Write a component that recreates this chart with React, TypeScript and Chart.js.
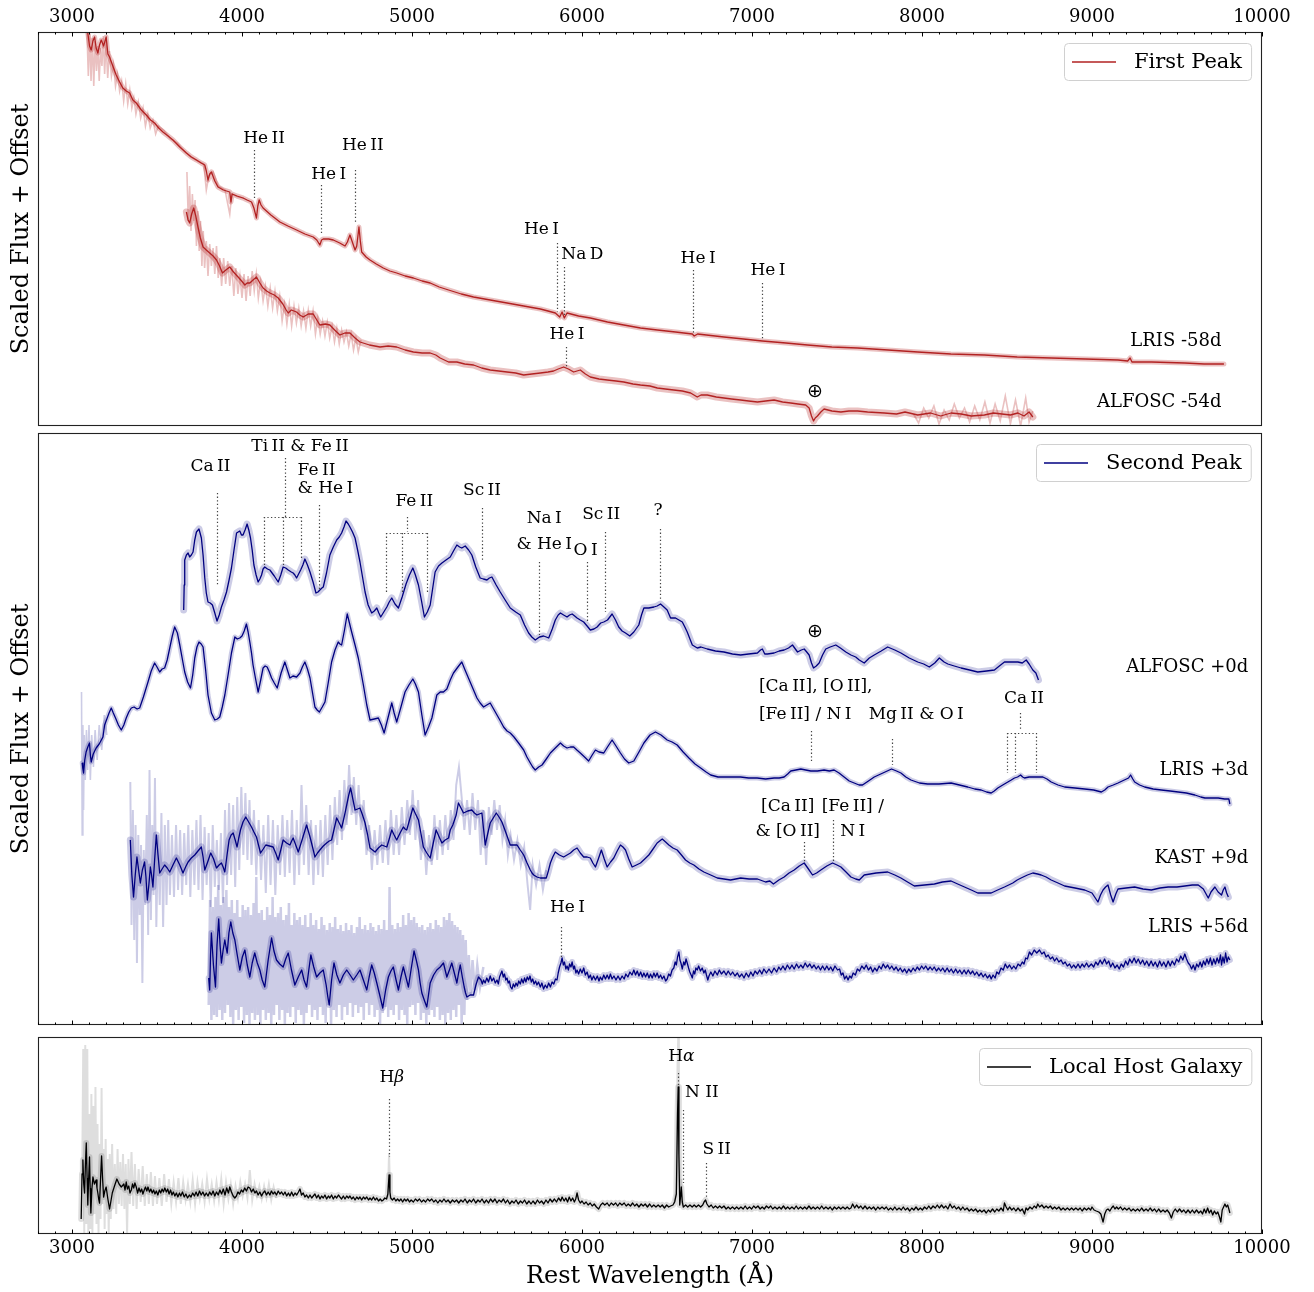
import React, { useEffect, useRef } from 'react';
import { Chart, registerables } from 'chart.js';
Chart.register(...registerables);

type P = [number, number];

// ---------------- axis ----------------
const X_MIN = 2800;
const X_MAX = 10000;
const xMajorTicks = [3000, 4000, 5000, 6000, 7000, 8000, 9000, 10000];
const xTickLabels = ['3000', '4000', '5000', '6000', '7000', '8000', '9000', '10000'];
const xMinorStep = 100;

// ---------------- First peak (top panel) ----------------
const lris58Dark: P[] = [[3093,393],[3103,380],[3113,376],[3123,385],[3133,389],[3142,378],[3152,373],[3162,381],[3172,386],[3186,380],[3201,389],[3211,372],[3221,369],[3240,360],[3260,351],[3280,344],[3299,338],[3319,335],[3339,333],[3358,326],[3378,323],[3408,316],[3437,311],[3462,306],[3486,303],[3510,298],[3535,294],[3565,290],[3594,286],[3634,279],[3673,273],[3702,269],[3732,266],[3760,263],[3781,261],[3790,255],[3800,246],[3810,252],[3820,254],[3840,245],[3859,239],[3890,236],[3928,234],[3935,224],[3942,232],[3970,230],[4006,228],[4030,226],[4056,224],[4070,218],[4085,208],[4093,220],[4101,226],[4112,221],[4124,218],[4170,211],[4223,204],[4270,200],[4321,196],[4370,192],[4419,189],[4440,186],[4458,181],[4468,186],[4478,187],[4510,187],[4537,186],[4575,183],[4606,180],[4620,184],[4635,191],[4645,186],[4665,176],[4675,180],[4688,199],[4696,185],[4704,174],[4730,169],[4753,166],[4790,162],[4831,158],[4870,155],[4910,153],[4960,150],[5008,148],[5060,145],[5107,143],[5160,139],[5215,136],[5290,132],[5362,129],[5460,126],[5559,123],[5657,120],[5755,117],[5800,115],[5843,113],[5869,109],[5883,114],[5896,108],[5912,113],[5980,110],[6049,108],[6150,104],[6246,101],[6344,98],[6443,96],[6550,94],[6649,92],[6660,90],[6680,92],[6835,89],[6950,87],[7061,85],[7200,83],[7326,81],[7470,79],[7621,78],[7800,76],[7975,74],[8170,72],[8367,71],[8560,69],[8760,68],[8960,67],[9153,66],[9210,65],[9224,68],[9235,64],[9350,64],[9546,63],[9660,62],[9776,62]];
const lris58Light: P[] = [[3088,394],[3096,350],[3104,392],[3112,345],[3120,388],[3128,340],[3136,385],[3144,355],[3152,380],[3160,345],[3168,378],[3176,360],[3184,390],[3192,352],[3200,385],[3210,348],[3220,375],[3232,350],[3244,362],[3256,340],[3268,352],[3280,335],[3292,345],[3304,325],[3316,342],[3328,322],[3340,336],[3352,318],[3364,328],[3376,312],[3390,324],[3404,308],[3418,318],[3432,300],[3446,312],[3460,298],[3476,306],[3492,292],[3508,300],[3540,296],[3580,287],[3620,283],[3660,275],[3700,269],[3740,265],[3775,262],[3790,236],[3805,250],[3830,254],[3860,240],[3900,236],[3928,212],[3940,232],[3980,229],[4010,228]];

const alfosc54Dark: P[] = [[3673,214],[3683,206],[3692,203],[3704,212],[3716,218],[3728,210],[3741,199],[3755,188],[3771,179],[3790,176],[3810,173],[3830,170],[3850,166],[3868,160],[3885,153],[3905,156],[3928,159],[3950,154],[3977,149],[3998,145],[4017,141],[4030,143],[4046,143],[4065,146],[4085,149],[4105,143],[4124,138],[4145,135],[4164,133],[4190,131],[4213,128],[4240,122],[4260,116],[4272,113],[4290,116],[4321,114],[4340,111],[4360,109],[4390,112],[4419,112],[4440,106],[4458,101],[4490,102],[4517,101],[4545,96],[4576,91],[4605,93],[4635,93],[4665,88],[4694,84],[4750,81],[4812,79],[4860,80],[4910,79],[4960,76],[5008,74],[5060,73],[5107,73],[5140,71],[5166,68],[5215,64],[5264,64],[5310,62],[5362,61],[5410,58],[5460,56],[5510,55],[5559,54],[5610,53],[5657,51],[5705,52],[5755,53],[5800,54],[5833,55],[5860,57],[5892,59],[5920,57],[5951,54],[5990,56],[6020,52],[6049,49],[6100,47],[6148,46],[6200,45],[6246,44],[6300,42],[6344,41],[6400,40],[6443,38],[6490,37],[6540,36],[6590,35],[6639,33],[6678,29],[6700,31],[6737,31],[6790,29],[6835,28],[6880,27],[6933,26],[6980,25],[7032,24],[7080,25],[7130,26],[7180,24],[7228,23],[7270,22],[7316,21],[7336,18],[7350,10],[7362,5],[7372,8],[7385,10],[7405,14],[7424,17],[7470,15],[7523,14],[7570,15],[7621,15],[7680,14],[7778,13],[7850,12],[7900,14],[7975,11],[8050,13],[8110,10],[8171,13],[8230,12],[8290,10],[8367,11],[8420,13],[8470,12],[8520,11],[8564,13],[8600,10],[8630,14],[8652,9]];
const alfosc54Light: P[] = [[3676,254],[3684,205],[3692,240],[3700,195],[3708,232],[3716,205],[3724,226],[3732,180],[3740,215],[3748,175],[3756,205],[3764,160],[3772,195],[3780,158],[3790,185],[3800,150],[3810,182],[3820,160],[3830,178],[3840,152],[3850,180],[3860,148],[3870,168],[3880,140],[3892,168],[3904,142],[3916,165],[3928,140],[3940,160],[3952,130],[3964,158],[3976,132],[3988,150],[4000,128],[4012,152],[4024,125],[4036,150],[4048,130],[4060,155],[4072,135],[4084,152],[4096,128],[4110,145],[4124,125],[4138,140],[4152,120],[4166,138],[4180,118],[4194,135],[4208,115],[4222,130],[4236,105],[4250,122],[4264,102],[4278,122],[4292,100],[4306,120],[4320,103],[4334,118],[4348,100],[4362,115],[4376,98],[4390,116],[4404,100],[4418,115],[4432,92],[4446,108],[4460,92],[4474,105],[4488,90],[4502,104],[4516,88],[4530,100],[4544,84],[4558,98],[4572,82],[4586,96],[4600,84],[4614,94],[4628,80],[4642,92],[4656,76],[4670,88],[4684,74],[4700,86]];
const alfosc54LightRed: P[] = [[7950,12],[7980,3],[8010,18],[8040,8],[8070,20],[8100,2],[8130,16],[8160,6],[8190,22],[8220,8],[8250,18],[8280,4],[8310,20],[8340,6],[8370,24],[8400,3],[8430,22],[8460,5],[8490,30],[8520,2],[8550,26],[8580,0],[8610,28],[8630,4],[8652,15]];

// ---------------- Second peak (middle panel) ----------------
const alfosc0Dark: P[] = [[3657,415],[3660,440],[3663,465],[3673,470],[3683,472],[3692,468],[3702,470],[3712,473],[3722,485],[3732,493],[3747,496],[3761,487],[3771,470],[3781,447],[3790,432],[3800,423],[3813,422],[3826,420],[3840,412],[3853,404],[3866,410],[3879,418],[3894,425],[3909,433],[3924,445],[3938,457],[3953,475],[3968,492],[3987,494],[3997,490],[4006,490],[4018,495],[4030,501],[4040,495],[4050,487],[4060,475],[4070,460],[4083,450],[4095,443],[4105,446],[4115,450],[4124,456],[4134,458],[4150,456],[4164,455],[4190,449],[4213,443],[4228,450],[4242,458],[4257,457],[4272,455],[4290,453],[4301,452],[4311,450],[4321,447],[4333,451],[4345,455],[4358,460],[4370,466],[4385,460],[4400,453],[4418,443],[4435,432],[4447,433],[4458,435],[4470,437],[4478,438],[4497,452],[4517,470],[4537,478],[4557,485],[4572,488],[4586,492],[4600,498],[4612,504],[4625,501],[4635,498],[4650,493],[4665,487],[4680,475],[4694,463],[4709,448],[4724,433],[4742,420],[4763,412],[4778,414],[4793,417],[4805,412],[4816,408],[4834,413],[4852,418],[4866,423],[4881,427],[4900,421],[4920,417],[4942,428],[4965,441],[4985,450],[5005,457],[5020,450],[5038,440],[5055,425],[5073,408],[5090,413],[5107,420],[5122,437],[5136,453],[5156,459],[5176,462],[5200,465],[5225,468],[5244,474],[5264,480],[5280,478],[5293,477],[5313,479],[5333,475],[5352,470],[5375,458],[5401,447],[5420,446],[5441,445],[5455,447],[5470,448],[5495,440],[5519,433],[5548,425],[5578,417],[5610,413],[5637,410],[5662,400],[5686,392],[5705,388],[5725,385],[5750,388],[5774,389],[5790,388],[5804,387],[5825,396],[5843,405],[5860,410],[5873,412],[5892,410],[5912,408],[5927,410],[5942,411],[5957,409],[5971,407],[5990,405],[6010,403],[6030,399],[6049,395],[6070,396],[6089,398],[6110,402],[6128,403],[6150,405],[6177,411],[6197,405],[6216,398],[6236,394],[6256,392],[6281,389],[6305,393],[6334,400],[6350,410],[6364,417],[6393,417],[6423,418],[6442,419],[6462,421],[6482,418],[6501,415],[6521,407],[6550,407],[6570,405],[6590,403],[6605,398],[6619,393],[6635,386],[6649,380],[6678,377],[6700,378],[6737,376],[6785,374],[6835,373],[6885,371],[6933,370],[6980,371],[7032,372],[7050,375],[7061,376],[7075,371],[7091,371],[7130,372],[7160,374],[7189,375],[7215,377],[7238,380],[7255,376],[7268,373],[7290,375],[7307,376],[7322,373],[7336,370],[7350,362],[7362,357],[7378,359],[7395,362],[7415,370],[7434,376],[7460,378],[7493,380],[7520,377],[7552,373],[7582,370],[7610,368],[7631,365],[7660,362],[7690,367],[7719,370],[7760,374],[7798,378],[7840,375],[7876,372],[7925,367],[7975,363],[8010,361],[8043,358],[8075,362],[8102,367],[8130,363],[8152,361],[8190,359],[8230,357],[8280,355],[8328,353],[8380,354],[8426,355],[8455,359],[8485,363],[8520,363],[8564,363],[8590,362],[8613,365],[8630,361],[8652,355],[8670,352],[8685,345]];

const lris3Dark: P[] = [[3060,262],[3064,256],[3068,252],[3075,265],[3083,273],[3093,278],[3103,282],[3108,270],[3113,263],[3125,271],[3142,277],[3160,281],[3182,288],[3192,300],[3205,306],[3218,312],[3231,317],[3243,312],[3256,307],[3273,300],[3290,295],[3305,300],[3319,307],[3334,313],[3349,317],[3365,318],[3383,316],[3398,317],[3420,328],[3447,343],[3466,354],[3486,362],[3500,358],[3516,353],[3530,356],[3545,357],[3560,365],[3575,377],[3590,389],[3604,398],[3620,392],[3634,380],[3650,365],[3663,353],[3680,343],[3697,337],[3710,350],[3722,367],[3735,378],[3747,383],[3760,381],[3771,378],[3786,355],[3800,330],[3820,312],[3840,305],[3855,306],[3869,308],[3884,318],[3899,330],[3918,350],[3938,372],[3958,388],[3972,386],[3987,387],[4000,389],[4013,394],[4026,401],[4036,393],[4046,383],[4056,372],[4065,360],[4080,346],[4095,333],[4110,345],[4124,357],[4136,359],[4148,358],[4161,353],[4174,347],[4190,342],[4207,337],[4230,352],[4252,363],[4267,355],[4282,347],[4300,349],[4321,348],[4341,352],[4355,358],[4370,363],[4385,356],[4400,347],[4415,332],[4429,318],[4442,315],[4455,313],[4472,318],[4488,323],[4507,342],[4527,363],[4547,375],[4566,383],[4576,381],[4586,380],[4603,395],[4619,411],[4632,402],[4645,393],[4665,380],[4684,367],[4700,353],[4714,340],[4734,320],[4753,305],[4778,306],[4802,307],[4820,300],[4836,292],[4860,308],[4881,322],[4895,312],[4910,303],[4935,318],[4959,333],[4982,340],[5005,346],[5020,341],[5038,333],[5058,310],[5077,290],[5097,298],[5117,307],[5131,318],[5146,330],[5166,333],[5185,333],[5205,336],[5225,345],[5244,352],[5270,358],[5293,363],[5312,355],[5332,347],[5357,337],[5382,327],[5401,322],[5421,318],[5440,320],[5460,322],[5480,316],[5500,310],[5520,304],[5539,298],[5559,294],[5578,292],[5600,288],[5627,282],[5657,275],[5676,268],[5696,262],[5710,258],[5725,255],[5745,258],[5765,260],[5790,266],[5814,272],[5843,277],[5873,282],[5892,279],[5912,277],[5932,278],[5951,278],[5970,275],[5990,272],[6015,268],[6039,264],[6060,270],[6079,275],[6100,273],[6128,272],[6150,278],[6177,285],[6200,279],[6226,272],[6250,266],[6275,262],[6290,263],[6305,264],[6335,273],[6364,282],[6400,290],[6432,293],[6465,290],[6501,285],[6530,283],[6560,280],[6595,273],[6629,267],[6665,261],[6698,257],[6730,253],[6757,250],[6800,248],[6835,248],[6885,248],[6933,248],[6980,247],[7030,247],[7080,246],[7130,247],[7160,247],[7189,248],[7210,251],[7228,254],[7258,255],[7287,256],[7316,255],[7346,254],[7385,254],[7424,255],[7455,254],[7483,255],[7512,252],[7542,248],[7572,244],[7601,242],[7630,240],[7650,240],[7685,244],[7719,248],[7770,252],[7821,256],[7850,254],[7876,252],[7905,248],[7935,245],[7985,242],[8033,241],[8100,241],[8171,242],[8220,240],[8269,238],[8310,236],[8348,235],[8380,233],[8407,232],[8425,234],[8446,237],[8475,240],[8505,243],[8525,245],[8544,247],[8562,248],[8580,250],[8592,248],[8603,247],[8630,248],[8662,248],[8690,248],[8711,248],[8735,246],[8760,243],[8800,240],[8839,238],[8900,237],[8957,236],[9010,235],[9055,233],[9075,235],[9094,238],[9125,240],[9153,242],[9190,245],[9215,247],[9227,250],[9240,246],[9251,243],[9280,240],[9310,238],[9360,236],[9408,235],[9460,234],[9507,233],[9555,232],[9605,230],[9640,228],[9664,227],[9700,227],[9742,227],[9780,226],[9805,226],[9811,221]];
const lris3Light: P[] = [[3056,333],[3060,190],[3064,300],[3068,215],[3072,290],[3078,245],[3085,295],[3092,255],[3100,300],[3108,245],[3116,290],[3126,258],[3136,295],[3148,265],[3160,300],[3175,275],[3190,310],[3205,290]];

const kast9Dark: P[] = [[3343,185],[3352,150],[3362,128],[3372,150],[3382,168],[3392,155],[3402,142],[3414,155],[3427,163],[3435,148],[3443,125],[3452,140],[3461,158],[3468,150],[3476,138],[3486,165],[3496,190],[3506,170],[3516,152],[3530,156],[3545,160],[3560,157],[3575,153],[3594,160],[3614,167],[3634,160],[3653,152],[3668,158],[3683,163],[3702,167],[3722,170],[3741,174],[3761,178],[3771,168],[3781,155],[3798,163],[3816,172],[3833,166],[3850,157],[3865,160],[3879,162],[3889,158],[3899,153],[3912,170],[3924,185],[3936,190],[3948,192],[3960,185],[3971,178],[3981,187],[3991,195],[4006,203],[4022,208],[4039,203],[4056,198],[4070,193],[4085,188],[4097,180],[4109,172],[4125,176],[4140,180],[4162,179],[4183,178],[4198,172],[4213,165],[4228,175],[4242,185],[4262,182],[4282,180],[4292,184],[4301,187],[4316,180],[4331,173],[4355,186],[4380,200],[4390,194],[4400,188],[4415,178],[4429,168],[4444,172],[4458,175],[4478,179],[4498,182],[4513,184],[4527,185],[4542,196],[4557,207],[4572,202],[4586,197],[4601,208],[4616,220],[4628,230],[4639,237],[4652,226],[4665,215],[4680,216],[4694,217],[4709,210],[4724,202],[4739,190],[4753,177],[4768,175],[4783,173],[4802,177],[4822,180],[4837,179],[4852,178],[4866,186],[4881,195],[4895,190],[4910,185],[4930,192],[4949,198],[4959,196],[4969,195],[4987,206],[5005,217],[5021,211],[5038,205],[5052,192],[5067,178],[5087,172],[5107,167],[5124,181],[5142,195],[5160,188],[5176,182],[5195,185],[5215,187],[5225,195],[5240,200],[5260,210],[5273,222],[5288,217],[5303,212],[5328,214],[5352,215],[5367,212],[5382,210],[5396,211],[5411,212],[5421,196],[5431,180],[5445,191],[5460,202],[5478,207],[5496,212],[5512,208],[5529,203],[5553,192],[5578,180],[5598,180],[5618,180],[5637,175],[5657,170],[5677,162],[5696,155],[5706,152],[5716,150],[5735,148],[5755,147],[5772,147],[5790,147],[5802,154],[5814,162],[5828,168],[5843,173],[5867,170],[5892,168],[5912,170],[5932,172],[5951,175],[5971,177],[5990,172],[6010,168],[6030,168],[6049,167],[6064,162],[6079,158],[6096,166],[6114,175],[6131,166],[6148,158],[6168,163],[6187,167],[6207,174],[6226,180],[6241,178],[6256,175],[6275,166],[6295,158],[6320,160],[6344,162],[6369,166],[6393,170],[6418,176],[6442,182],[6457,184],[6472,186],[6492,183],[6511,180],[6535,177],[6560,175],[6585,170],[6609,165],[6634,162],[6658,160],[6688,156],[6717,153],[6757,150],[6796,147],[6835,146],[6874,145],[6904,146],[6933,147],[6983,146],[7032,146],[7080,143],[7105,144],[7126,141],[7158,145],[7189,148],[7218,152],[7248,155],[7278,159],[7307,162],[7332,156],[7356,150],[7380,152],[7405,155],[7440,159],[7474,162],[7500,160],[7523,158],[7553,153],[7582,148],[7610,146],[7631,145],[7660,150],[7730,152],[7798,153],[7840,150],[7876,147],[7915,143],[7955,139],[8015,140],[8073,141],[8120,143],[8171,144],[8210,141],[8250,138],[8290,135],[8328,132],[8367,132],[8407,132],[8445,135],[8485,138],[8510,140],[8534,142],[8560,145],[8583,147],[8620,150],[8652,152],[8680,151],[8701,150],[8730,148],[8760,145],[8800,142],[8839,139],[8900,137],[8957,135],[9000,132],[9035,123],[9050,130],[9065,135],[9080,138],[9094,140],[9110,130],[9124,123],[9140,131],[9153,136],[9200,137],[9251,138],[9300,136],[9349,135],[9400,137],[9448,138],[9500,138],[9546,139],[9590,140],[9625,140],[9655,136],[9684,127],[9700,133],[9723,138],[9742,133],[9762,130],[9772,135],[9782,138],[9792,132],[9802,128]];
const kast9Light: P[] = [[3343,243],[3350,100],[3358,215],[3366,85],[3374,200],[3382,62],[3390,190],[3398,110],[3406,180],[3414,42],[3422,175],[3430,120],[3440,210],[3448,90],[3456,255],[3464,105],[3472,200],[3480,130],[3488,247],[3496,98],[3506,190],[3516,120],[3526,212],[3536,98],[3546,200],[3556,120],[3566,205],[3576,130],[3588,190],[3600,128],[3612,200],[3624,135],[3636,195],[3648,130],[3660,192],[3672,140],[3684,200],[3696,128],[3708,195],[3720,140],[3732,205],[3744,135],[3756,210],[3768,125],[3780,198],[3792,140],[3804,192],[3816,118],[3828,200],[3840,138],[3852,185],[3864,135],[3876,192],[3888,122],[3900,215],[3912,140],[3924,222],[3936,150],[3948,220],[3960,138],[3972,228],[3984,155],[3996,238],[4008,170],[4020,232],[4032,165],[4044,225],[4056,160],[4070,215],[4084,150],[4098,205],[4112,145],[4126,200],[4140,132],[4154,210],[4168,140],[4182,205],[4196,130],[4210,200],[4224,150],[4238,210],[4252,148],[4266,205],[4280,152],[4294,215],[4308,140],[4322,205],[4336,150],[4350,240],[4364,160],[4378,220],[4392,150],[4406,205],[4420,140],[4434,200],[4448,150],[4462,205],[4476,148],[4490,210],[4504,160],[4518,220],[4532,165],[4546,228],[4560,180],[4574,235],[4588,185],[4602,245],[4616,200],[4630,260],[4644,210],[4658,248],[4672,200],[4686,240],[4700,195],[4716,225],[4732,170],[4748,200],[4764,155],[4780,195],[4796,160],[4812,200],[4828,162],[4844,205],[4860,160],[4876,215],[4892,170],[4908,210],[4924,170],[4940,218],[4956,180],[4972,225],[4988,190],[5004,235],[5020,185],[5036,225],[5052,165],[5068,195],[5084,150],[5100,190],[5116,160],[5132,210],[5148,165],[5164,205],[5180,170],[5196,210],[5212,175],[5228,215],[5244,185],[5260,240],[5276,258],[5292,228],[5308,195],[5324,225],[5340,190],[5356,232],[5372,195],[5388,225],[5404,170],[5420,215],[5436,160],[5452,218],[5468,190],[5484,225],[5500,195],[5516,220],[5532,185],[5548,205],[5564,170],[5580,190],[5600,165],[5620,185],[5640,160],[5660,178],[5680,140],[5695,115],[5710,160],[5730,140],[5750,160],[5770,135],[5790,155]];

const lris56Dark: P[] = [[3804,47],[3810,35],[3815,70],[3820,92],[3832,60],[3844,38],[3853,80],[3863,106],[3871,80],[3879,62],[3889,75],[3899,85],[3906,78],[3913,72],[3923,92],[3934,103],[3946,92],[3958,85],[3972,70],[3987,55],[4002,68],[4017,75],[4031,60],[4046,48],[4060,62],[4075,72],[4090,62],[4105,55],[4119,45],[4134,38],[4154,65],[4174,87],[4188,74],[4203,65],[4222,61],[4242,58],[4257,66],[4272,72],[4291,55],[4311,40],[4331,48],[4351,55],[4365,45],[4380,38],[4393,55],[4405,70],[4422,58],[4439,48],[4458,52],[4478,55],[4495,40],[4505,28],[4513,20],[4527,45],[4541,62],[4558,50],[4576,42],[4596,50],[4616,55],[4636,50],[4655,45],[4675,50],[4694,55],[4714,45],[4734,35],[4748,48],[4763,60],[4778,52],[4793,42],[4810,30],[4828,17],[4845,35],[4861,48],[4876,54],[4890,58],[4905,46],[4920,35],[4935,48],[4949,58],[4964,48],[4979,38],[4995,56],[5012,74],[5025,65],[5038,55],[5048,42],[5058,32],[5072,25],[5087,18],[5097,30],[5107,42],[5127,50],[5146,55],[5166,58],[5185,62],[5195,55],[5205,48],[5220,55],[5234,62],[5249,52],[5264,42],[5274,52],[5284,60],[5296,48],[5307,38],[5315,32],[5323,28],[5342,30],[5362,30],[5376,40],[5391,48],[5406,45],[5414,41],[5421,45],[5430,42],[5440,47],[5450,43],[5460,49],[5470,44],[5480,47],[5490,42],[5500,45],[5508,41],[5515,48],[5522,51],[5529,54],[5537,48],[5544,51],[5552,45],[5559,47],[5566,42],[5573,44],[5580,38],[5588,36],[5596,41],[5604,38],[5612,42],[5620,39],[5628,44],[5637,41],[5645,46],[5654,42],[5662,47],[5670,43],[5678,48],[5686,45],[5694,49],[5702,43],[5710,46],[5718,41],[5727,44],[5735,40],[5744,43],[5755,38],[5764,42],[5774,36],[5784,40],[5794,37],[5804,42],[5814,38],[5824,43],[5834,41],[5844,46],[5853,45],[5860,52],[5868,58],[5876,62],[5883,67],[5890,60],[5897,63],[5905,56],[5912,59],[5920,55],[5927,61],[5935,58],[5942,63],[5950,56],[5956,59],[5964,52],[5971,55],[5980,51],[5990,56],[6000,52],[6010,57],[6020,50],[6030,53],[6040,47],[6049,50],[6058,45],[6068,49],[6079,45],[6090,49],[6100,44],[6108,48],[6118,45],[6128,50],[6138,46],[6148,50],[6158,46],[6167,51],[6177,46],[6188,49],[6200,45],[6212,49],[6224,45],[6236,49],[6248,46],[6258,51],[6270,48],[6282,53],[6294,50],[6305,55],[6315,50],[6325,54],[6335,49],[6345,53],[6355,48],[6364,52],[6374,48],[6384,52],[6394,47],[6403,51],[6413,47],[6423,52],[6432,48],[6442,52],[6452,47],[6462,50],[6472,46],[6482,49],[6492,44],[6501,46],[6510,51],[6520,49],[6530,55],[6540,57],[6548,63],[6555,60],[6562,68],[6570,73],[6576,65],[6582,62],[6590,56],[6598,63],[6605,60],[6612,66],[6619,62],[6627,57],[6634,53],[6642,50],[6649,47],[6656,54],[6663,51],[6670,57],[6678,55],[6686,59],[6697,54],[6707,57],[6717,52],[6725,55],[6732,50],[6740,45],[6747,49],[6758,53],[6770,49],[6782,54],[6796,50],[6808,55],[6820,51],[6835,54],[6848,50],[6860,54],[6874,50],[6886,53],[6900,49],[6914,52],[6926,48],[6940,51],[6953,47],[6966,52],[6980,48],[6993,53],[7006,49],[7018,54],[7032,51],[7045,55],[7058,51],[7070,56],[7085,52],[7100,56],[7115,52],[7130,57],[7145,53],[7158,58],[7169,55],[7182,59],[7195,55],[7208,60],[7222,56],[7235,60],[7248,56],[7262,61],[7275,57],[7287,60],[7300,57],[7313,62],[7326,58],[7340,61],[7352,57],[7365,60],[7378,56],[7390,59],[7403,55],[7415,59],[7428,55],[7440,59],[7452,55],[7463,58],[7475,54],[7488,59],[7503,55],[7515,56],[7525,50],[7535,52],[7545,46],[7555,49],[7565,45],[7575,49],[7585,47],[7595,52],[7608,50],[7620,56],[7633,54],[7646,59],[7660,56],[7672,60],[7685,55],[7698,58],[7710,53],[7722,57],[7735,54],[7748,59],[7760,56],[7772,61],[7785,57],[7798,60],[7810,56],[7822,59],[7835,55],[7848,58],[7860,54],[7872,57],[7885,53],[7898,56],[7910,52],[7922,56],[7935,53],[7948,57],[7960,54],[7972,58],[7985,55],[7998,59],[8010,56],[8022,59],[8035,55],[8048,58],[8060,55],[8072,58],[8085,54],[8098,57],[8110,54],[8122,57],[8135,53],[8148,57],[8160,53],[8172,56],[8185,52],[8198,56],[8210,52],[8222,55],[8235,51],[8248,55],[8260,51],[8272,55],[8285,51],[8298,54],[8310,50],[8322,53],[8335,49],[8348,52],[8360,48],[8372,51],[8385,47],[8398,50],[8407,46],[8418,50],[8430,47],[8440,53],[8452,51],[8465,57],[8478,55],[8490,61],[8502,57],[8515,60],[8528,56],[8540,59],[8552,56],[8565,61],[8578,59],[8590,63],[8600,61],[8610,67],[8620,66],[8632,73],[8645,70],[8660,75],[8675,72],[8691,75],[8705,71],[8718,73],[8730,68],[8742,70],[8755,66],[8768,68],[8780,64],[8792,67],[8805,63],[8818,65],[8830,61],[8842,63],[8855,59],[8868,61],[8880,57],[8892,60],[8905,57],[8918,61],[8930,57],[8942,61],[8955,58],[8968,62],[8980,58],[8996,61],[9010,58],[9022,63],[9035,60],[9048,65],[9060,61],[9074,66],[9086,61],[9098,64],[9110,58],[9122,62],[9135,57],[9148,60],[9160,56],[9172,61],[9185,58],[9198,64],[9210,60],[9222,66],[9235,62],[9248,67],[9260,62],[9272,66],[9285,61],[9298,65],[9310,60],[9322,64],[9335,59],[9348,64],[9360,59],[9372,63],[9385,58],[9398,64],[9410,59],[9422,63],[9435,58],[9448,64],[9460,59],[9472,64],[9485,60],[9498,66],[9510,63],[9522,69],[9534,65],[9546,71],[9556,66],[9566,62],[9576,60],[9586,56],[9596,60],[9606,55],[9616,61],[9626,58],[9636,63],[9646,58],[9656,64],[9666,60],[9676,66],[9686,61],[9696,67],[9706,60],[9716,66],[9726,61],[9736,67],[9746,62],[9756,70],[9762,60],[9770,68],[9778,62],[9786,72],[9794,63],[9802,68],[9811,65]];
const lris56Light: P[] = [[3804,20],[3812,125],[3820,5],[3828,118],[3836,10],[3844,128],[3852,8],[3860,140],[3868,15],[3876,120],[3884,5],[3892,128],[3900,12],[3908,135],[3916,20],[3924,118],[3932,8],[3940,125],[3948,0],[3956,112],[3964,15],[3972,125],[3980,5],[3988,108],[3996,18],[4004,120],[4012,2],[4020,115],[4028,10],[4036,118],[4044,0],[4052,110],[4060,12],[4068,122],[4076,5],[4084,148],[4092,10],[4100,112],[4108,0],[4116,115],[4124,15],[4132,105],[4140,5],[4148,118],[4156,12],[4164,110],[4172,0],[4180,128],[4188,10],[4196,108],[4204,20],[4212,112],[4220,5],[4228,118],[4236,15],[4244,105],[4252,0],[4260,110],[4268,12],[4276,122],[4284,8],[4292,100],[4300,18],[4308,112],[4316,2],[4324,105],[4332,15],[4340,108],[4348,10],[4356,100],[4364,0],[4372,110],[4380,12],[4388,98],[4396,20],[4404,112],[4412,8],[4420,100],[4428,15],[4436,105],[4444,5],[4452,96],[4460,18],[4468,108],[4476,10],[4484,100],[4492,2],[4500,95],[4508,20],[4516,102],[4524,0],[4532,98],[4540,15],[4548,108],[4556,8],[4564,96],[4572,20],[4580,100],[4588,5],[4596,94],[4604,18],[4612,102],[4620,10],[4628,95],[4636,22],[4644,100],[4652,8],[4660,92],[4668,20],[4676,98],[4684,12],[4692,108],[4700,18],[4708,96],[4716,5],[4724,100],[4732,22],[4740,95],[4748,10],[4756,102],[4764,20],[4772,98],[4780,8],[4788,94],[4796,15],[4804,100],[4812,0],[4820,96],[4828,12],[4836,105],[4844,18],[4852,95],[4860,8],[4868,138],[4876,15],[4884,100],[4892,10],[4900,96],[4908,20],[4916,102],[4924,5],[4932,98],[4940,15],[4948,110],[4956,10],[4964,100],[4972,0],[4980,112],[4988,18],[4996,105],[5004,20],[5012,108],[5020,10],[5028,102],[5036,22],[5044,98],[5052,5],[5060,100],[5068,12],[5076,95],[5084,0],[5092,98],[5100,10],[5108,102],[5116,15],[5124,96],[5132,8],[5140,105],[5148,18],[5156,100],[5164,5],[5172,98],[5180,10],[5188,108],[5196,0],[5204,105],[5212,12],[5220,112],[5228,5],[5236,104],[5244,15],[5252,100],[5260,8],[5268,98],[5276,20],[5284,95],[5292,0],[5300,90],[5308,10],[5316,85],[5324,25],[5334,70],[5344,30],[5356,65],[5370,35],[5384,60],[5400,38],[5420,58]];

// ---------------- Local host galaxy (bottom panel) ----------------
const hostDark: P[] = [[3054,15],[3059,60],[3064,74],[3069,50],[3074,41],[3079,70],[3084,91],[3089,55],[3093,29],[3098,55],[3103,77],[3107,45],[3111,21],[3117,45],[3123,57],[3132,50],[3142,54],[3147,46],[3152,41],[3157,35],[3162,31],[3168,55],[3174,78],[3180,55],[3186,37],[3193,43],[3201,47],[3211,35],[3221,25],[3229,33],[3237,41],[3250,48],[3264,55],[3277,50],[3290,47],[3305,50],[3312,44],[3319,52],[3326,45],[3334,48],[3341,41],[3349,44],[3356,50],[3363,46],[3370,51],[3378,47],[3386,41],[3394,46],[3402,42],[3410,45],[3417,40],[3425,44],[3432,47],[3440,43],[3447,47],[3456,42],[3464,45],[3472,41],[3480,44],[3488,40],[3496,43],[3505,39],[3514,44],[3522,41],[3530,45],[3538,42],[3546,46],[3555,42],[3563,45],[3571,40],[3580,44],[3588,39],[3596,42],[3605,38],[3614,41],[3623,37],[3632,41],[3640,38],[3650,42],[3660,37],[3670,40],[3680,36],[3690,39],[3700,37],[3710,41],[3720,38],[3730,42],[3740,38],[3750,43],[3760,39],[3770,42],[3780,38],[3790,41],[3800,38],[3810,42],[3820,39],[3830,43],[3840,38],[3850,42],[3860,39],[3870,44],[3880,40],[3890,45],[3900,39],[3910,46],[3920,41],[3928,47],[3938,42],[3948,38],[3958,36],[3967,38],[3976,42],[3986,40],[3996,44],[4006,42],[4016,46],[4026,43],[4036,47],[4046,46],[4056,42],[4066,45],[4076,41],[4085,43],[4095,39],[4105,42],[4115,38],[4124,41],[4134,43],[4144,39],[4154,42],[4164,39],[4173,43],[4183,40],[4193,42],[4203,39],[4213,43],[4223,40],[4233,42],[4243,39],[4253,42],[4263,38],[4273,41],[4282,38],[4292,42],[4302,38],[4312,41],[4322,39],[4332,42],[4341,45],[4350,39],[4360,41],[4370,37],[4380,39],[4390,36],[4400,39],[4410,36],[4419,38],[4429,40],[4439,36],[4449,39],[4459,35],[4468,38],[4478,36],[4488,39],[4498,35],[4508,38],[4517,36],[4527,39],[4537,35],[4547,38],[4557,36],[4567,39],[4576,37],[4586,35],[4596,38],[4606,35],[4616,38],[4626,36],[4635,38],[4645,35],[4655,37],[4665,34],[4675,37],[4685,35],[4694,37],[4704,34],[4714,37],[4724,35],[4734,37],[4744,34],[4753,36],[4763,34],[4773,37],[4783,34],[4793,36],[4803,33],[4813,35],[4823,33],[4831,34],[4840,36],[4850,35],[4858,40],[4865,59],[4870,42],[4875,36],[4885,34],[4895,36],[4905,33],[4915,35],[4925,33],[4935,35],[4945,32],[4955,35],[4965,33],[4975,35],[4985,32],[4995,34],[5008,32],[5020,35],[5032,33],[5044,35],[5056,32],[5068,34],[5080,32],[5092,35],[5104,33],[5116,35],[5128,32],[5140,34],[5152,31],[5164,34],[5176,32],[5188,35],[5200,32],[5212,34],[5225,31],[5238,34],[5250,32],[5262,34],[5275,31],[5288,34],[5300,32],[5312,35],[5325,31],[5338,34],[5350,32],[5362,35],[5375,31],[5388,34],[5400,32],[5412,35],[5425,31],[5438,34],[5450,31],[5462,35],[5475,32],[5488,35],[5500,31],[5512,34],[5525,32],[5538,35],[5550,31],[5562,34],[5575,30],[5588,33],[5600,31],[5612,34],[5625,30],[5638,33],[5650,31],[5662,34],[5675,30],[5688,33],[5700,30],[5712,33],[5725,30],[5738,34],[5750,31],[5762,33],[5775,30],[5788,34],[5800,31],[5812,35],[5825,32],[5838,35],[5850,32],[5862,36],[5875,33],[5883,37],[5895,33],[5905,36],[5915,32],[5925,37],[5935,33],[5945,36],[5955,32],[5963,35],[5971,41],[5980,34],[5990,31],[6000,33],[6012,30],[6024,32],[6036,29],[6048,31],[6060,28],[6072,30],[6085,27],[6098,25],[6110,29],[6122,31],[6134,29],[6148,31],[6160,28],[6172,31],[6185,29],[6198,31],[6210,28],[6222,31],[6235,29],[6248,31],[6260,28],[6272,30],[6285,28],[6298,31],[6310,28],[6322,30],[6335,27],[6348,30],[6360,28],[6372,30],[6385,27],[6398,30],[6410,27],[6422,29],[6435,27],[6448,29],[6460,27],[6472,29],[6485,26],[6498,29],[6510,27],[6521,28],[6535,29],[6545,32],[6555,40],[6562,120],[6566,147],[6570,80],[6575,29],[6580,38],[6584,47],[6590,32],[6596,27],[6610,29],[6622,27],[6635,29],[6648,27],[6660,29],[6672,27],[6685,29],[6698,27],[6710,29],[6718,32],[6727,34],[6735,30],[6747,27],[6760,29],[6772,26],[6785,28],[6798,26],[6810,28],[6822,26],[6835,28],[6848,25],[6860,27],[6872,25],[6885,27],[6898,25],[6910,27],[6922,25],[6935,27],[6948,25],[6960,28],[6972,25],[6985,27],[6998,25],[7010,28],[7022,26],[7035,28],[7048,25],[7060,27],[7072,25],[7085,28],[7098,26],[7110,28],[7122,25],[7135,27],[7148,25],[7160,27],[7172,25],[7185,28],[7198,25],[7210,27],[7222,25],[7235,27],[7248,25],[7260,28],[7272,25],[7285,27],[7298,25],[7310,27],[7322,25],[7335,28],[7348,25],[7360,27],[7372,25],[7385,27],[7398,25],[7410,28],[7422,25],[7435,27],[7448,25],[7460,27],[7472,24],[7485,27],[7498,25],[7510,27],[7522,25],[7535,27],[7548,25],[7560,27],[7572,25],[7582,26],[7592,30],[7604,26],[7615,29],[7628,26],[7640,28],[7652,25],[7665,28],[7678,25],[7690,27],[7702,25],[7715,27],[7728,24],[7740,27],[7752,25],[7765,27],[7778,25],[7790,27],[7802,24],[7815,26],[7828,24],[7840,27],[7852,24],[7865,26],[7878,24],[7890,27],[7902,24],[7915,26],[7928,23],[7940,26],[7952,24],[7965,27],[7978,24],[7990,26],[8002,24],[8015,27],[8028,25],[8040,28],[8052,25],[8065,28],[8078,26],[8090,29],[8102,26],[8115,29],[8128,26],[8140,28],[8152,25],[8165,30],[8178,26],[8190,28],[8202,25],[8215,27],[8228,24],[8240,27],[8252,24],[8265,26],[8278,23],[8290,25],[8302,23],[8315,25],[8328,22],[8340,24],[8352,22],[8365,24],[8378,21],[8390,24],[8402,22],[8415,25],[8428,22],[8440,25],[8452,23],[8465,26],[8478,23],[8485,31],[8495,27],[8505,24],[8515,27],[8528,24],[8540,26],[8552,23],[8565,26],[8578,23],[8590,25],[8603,20],[8612,26],[8622,24],[8635,27],[8648,25],[8660,28],[8672,26],[8681,30],[8692,27],[8705,29],[8718,26],[8730,28],[8742,26],[8755,28],[8768,25],[8780,27],[8792,25],[8805,27],[8818,24],[8830,26],[8842,24],[8855,26],[8868,24],[8880,26],[8892,24],[8905,26],[8918,24],[8930,26],[8942,23],[8955,26],[8968,24],[8980,26],[8992,24],[9000,27],[9012,24],[9025,23],[9040,22],[9052,20],[9065,12],[9075,20],[9085,24],[9094,25],[9105,23],[9115,26],[9125,28],[9135,25],[9145,27],[9155,25],[9168,27],[9180,24],[9192,26],[9205,24],[9218,26],[9230,23],[9242,25],[9255,23],[9268,25],[9280,23],[9292,26],[9305,23],[9318,25],[9330,23],[9342,26],[9355,23],[9368,25],[9380,22],[9392,25],[9405,22],[9418,24],[9430,22],[9442,24],[9455,21],[9467,16],[9478,22],[9490,25],[9502,22],[9515,25],[9528,22],[9540,24],[9552,21],[9565,24],[9578,21],[9590,24],[9602,21],[9615,24],[9628,21],[9640,23],[9650,20],[9660,25],[9670,21],[9680,26],[9690,21],[9700,24],[9710,19],[9720,23],[9730,20],[9740,22],[9750,17],[9758,12],[9766,24],[9774,27],[9782,30],[9790,27],[9798,29],[9805,25],[9811,21]];
const hostLight: P[] = [[3060,60],[3066,185],[3072,0],[3078,189],[3084,10],[3090,185],[3096,0],[3102,120],[3108,5],[3114,140],[3120,0],[3126,128],[3132,20],[3138,147],[3144,10],[3150,110],[3156,0],[3162,90],[3168,15],[3174,146],[3180,30],[3186,85],[3192,5],[3198,95],[3204,20],[3210,75],[3216,0],[3222,80],[3228,15],[3236,90],[3244,25],[3252,70],[3260,20],[3268,85],[3276,30],[3284,72],[3292,28],[3300,80],[3308,25],[3316,70],[3324,0],[3332,75],[3340,30],[3350,82],[3360,28],[3370,70],[3380,25],[3392,65],[3404,32],[3416,68],[3428,28],[3440,60],[3452,30],[3464,62],[3476,28],[3488,58],[3500,30],[3514,56],[3528,28],[3542,60],[3556,32],[3570,55],[3584,30],[3598,52],[3612,32],[3626,56],[3640,30],[3654,52],[3668,34],[3682,50],[3696,32],[3710,54],[3724,30],[3738,52],[3752,35],[3766,50],[3780,32],[3794,55],[3808,35],[3822,50],[3836,33],[3850,52],[3864,34],[3878,55],[3892,30],[3906,52],[3920,35],[3934,50],[3948,30],[3962,48],[3976,35],[3990,52],[4004,38],[4018,50],[4032,36],[4046,64],[4060,34],[4074,50],[4088,38],[4102,48],[4116,35],[4130,48],[4144,36],[4158,50],[4172,34],[4186,47],[4200,36]];
const hostLightHb: P[] = [[4850,34],[4858,38],[4865,81],[4872,36],[4880,34]];
const hostLightHa: P[] = [[6540,30],[6555,45],[6562,170],[6566,197],[6570,90],[6578,30],[6584,55],[6592,28]];

// ---------------- labels & annotations (data coordinates) ----------------
type Ann = { t: [string, number, number, string?][]; v?: [number, number, number][]; h?: [number, number, number][] };
const S = '\u2009';

const annFirst: Ann[] = [
  { t: [[`He${S}II`, 4130, 287]], v: [[4070, 276, 226]] },
  { t: [[`He${S}I`, 4510, 251]], v: [[4463, 241, 191]] },
  { t: [[`He${S}II`, 4711, 280]], v: [[4665, 256, 203]] },
  { t: [[`He${S}I`, 5762, 196]], v: [[5853, 183, 114]] },
  { t: [[`Na${S}D`, 6002, 171]], v: [[5896, 159, 111]] },
  { t: [[`He${S}I`, 6683, 167]], v: [[6655, 156, 93]] },
  { t: [[`He${S}I`, 7094, 155]], v: [[7061, 143, 86]] },
  { t: [[`He${S}I`, 5912, 91]], v: [[5904, 79, 58]] },
  { t: [['\u2295', 7371, 34]] },
];
const annSecond: Ann[] = [
  { t: [[`Ca${S}II`, 3815, 558]], v: [[3851, 532, 440]] },
  { t: [[`Ti${S}II & Fe${S}II`, 4341, 578]], v: [[4252, 567, 508], [4128, 508, 460], [4242, 508, 460], [4345, 508, 466]], h: [[4128, 4345, 508]] },
  { t: [[`Fe${S}II`, 4327, 554.5, 'left'], [`& He${S}I`, 4327, 536, 'left']], v: [[4451, 520, 435]] },
  { t: [[`Fe${S}II`, 5014, 523]], v: [[4969, 508, 493], [4847, 492, 432], [4940, 492, 432], [5087, 492, 432]], h: [[4847, 5087, 492]] },
  { t: [[`Sc${S}II`, 5412, 534.5]], v: [[5411, 517, 463]] },
  { t: [[`Na${S}I`, 5778, 506], [`& He${S}I`, 5778, 480]], v: [[5745, 463, 390]] },
  { t: [[`O${S}I`, 6021, 474]], v: [[6030, 463, 403]] },
  { t: [[`Sc${S}II`, 6113, 510]], v: [[6138, 493, 413]] },
  { t: [['?', 6447, 514]], v: [[6456, 496, 425]] },
  { t: [['\u2295', 7371, 392.5]] },
  { t: [[`[Ca${S}II], [O${S}II],`, 7041, 338, 'left'], [`[Fe${S}II] / N${S}I`, 7041, 310, 'left']], v: [[7346, 294, 263]] },
  { t: [[`Mg${S}II & O${S}I`, 7966, 310]], v: [[7823, 286, 260]] },
  { t: [[`Ca${S}II`, 8600, 326]], v: [[8578, 312, 295], [8501, 292, 252], [8548, 292, 252], [8668, 292, 252]], h: [[8501, 8668, 292]] },
  { t: [[`[Ca${S}II]`, 7210, 218], [`& [O${S}II]`, 7210, 193]], v: [[7306, 183, 163]] },
  { t: [[`[Fe${S}II] /`, 7593, 218], [`N${S}I`, 7593, 193]], v: [[7474, 205, 163]] },
  { t: [[`He${S}I`, 5914, 117]], v: [[5879, 98, 67]] },
];
const annHost: Ann[] = [
  { t: [['H_\u03b2_', 4881, 156.5]], v: [[4865, 135, 77]] },
  { t: [['H_\u03b1_', 6585, 177]], v: [[6566, 161, 147]] },
  { t: [['N II', 6705, 141]], v: [[6596, 124, 51]] },
  { t: [[`S${S}II`, 6793, 84]], v: [[6727, 71, 37]] },
];

const specLabelsFirst: [string, number, number][] = [['LRIS -58d', 9762, 85], ['ALFOSC -54d', 9762, 24]];
const specLabelsSecond: [string, number, number][] = [['ALFOSC +0d', 9919, 358], ['LRIS +3d', 9919, 255], ['KAST +9d', 9919, 167], ['LRIS +56d', 9919, 98]];

// ---------------- styles ----------------
const RED = '#b22222';
const RED_L = 'rgba(178,34,34,0.28)';
const BLUE = '#000080';
const BLUE_L = 'rgba(0,0,128,0.2)';
const BLACK = '#000000';
const GREY_L = 'rgba(0,0,0,0.13)';
const SERIF = "'DejaVu Serif', 'Liberation Serif', serif";

const toXY = (d: P[]) => d.map(([x, y]) => ({ x, y }));
const darkDs = (d: P[], c: string) => ({ data: toXY(d), borderColor: c, borderWidth: 1.3, pointRadius: 0, order: 0, clip: 0, borderJoinStyle: 'round' });
const haloDs = (d: P[], c: string, w: number) => ({ data: toXY(d), borderColor: c, borderWidth: w, pointRadius: 0, order: 2, clip: 0, borderJoinStyle: 'round', borderCapStyle: 'round' });
const lightDs = (d: P[], c: string, w = 1.6) => ({ data: toXY(d), borderColor: c, borderWidth: w, pointRadius: 0, order: 1, clip: 0 });

function drawRich(ctx: CanvasRenderingContext2D, text: string, x: number, y: number, align: string, size: number) {
  const isSym = text === '\u2295';
  const parts = text.split('_');
  const fonts = parts.map((_, i) => isSym ? "19px 'DejaVu Sans', sans-serif" : `${i % 2 ? 'italic ' : ''}${size}px ${SERIF}`);
  const widths = parts.map((p, i) => { ctx.font = fonts[i]; return ctx.measureText(p).width; });
  const total = widths.reduce((a, b) => a + b, 0);
  let sx = align === 'center' ? x - total / 2 : align === 'right' ? x - total : x;
  ctx.textAlign = 'left';
  ctx.textBaseline = 'middle';
  parts.forEach((p, i) => { ctx.font = fonts[i]; ctx.fillText(p, sx, y); sx += widths[i]; });
}

type PanelCfg = {
  yMax: number;
  padding: { left: number; right: number; top: number; bottom: number };
  datasets: any[];
  ann: Ann[];
  labels: [string, number, number][];
  legend: { text: string; color: string };
  topTicks?: boolean; bottomTicks?: boolean; topLabels?: boolean; bottomLabels?: boolean; yTitle?: boolean; xTitle?: boolean;
};

const decor = (cfg: PanelCfg) => ({
  id: 'decor',
  afterDraw(chart: any) {
    const { ctx, chartArea: a, scales } = chart;
    const xs = scales.x, ys = scales.y;
    ctx.save();
    ctx.fillStyle = '#000';
    ctx.strokeStyle = '#444';
    ctx.lineWidth = 1.2;
    ctx.setLineDash([1.3, 2.3]);
    cfg.ann.forEach((an) => {
      (an.v || []).forEach(([l, h1, h2]) => {
        const x = Math.round(xs.getPixelForValue(l)) + 0.5;
        ctx.beginPath(); ctx.moveTo(x, ys.getPixelForValue(h1)); ctx.lineTo(x, ys.getPixelForValue(h2)); ctx.stroke();
      });
      (an.h || []).forEach(([l1, l2, h]) => {
        const y = Math.round(ys.getPixelForValue(h)) + 0.5;
        ctx.beginPath(); ctx.moveTo(xs.getPixelForValue(l1), y); ctx.lineTo(xs.getPixelForValue(l2), y); ctx.stroke();
      });
    });
    ctx.setLineDash([]);
    cfg.ann.forEach((an) => {
      an.t.forEach(([s, l, h, al]) => drawRich(ctx, s, xs.getPixelForValue(l), ys.getPixelForValue(h), al || 'center', 17));
    });
    cfg.labels.forEach(([s, l, h]) => drawRich(ctx, s, xs.getPixelForValue(l), ys.getPixelForValue(h), 'right', 18));

    // legend
    ctx.font = `21px ${SERIF}`;
    const tw = ctx.measureText(cfg.legend.text).width;
    const bw = 79 + tw, bh = 37;
    const bx = Math.round(a.right - 11 - bw), by = Math.round(a.top + 11);
    ctx.beginPath();
    ctx.roundRect(bx + 0.5, by + 0.5, bw, bh, 4);
    ctx.fillStyle = 'rgba(255,255,255,0.85)';
    ctx.fill();
    ctx.strokeStyle = '#d0d0d0';
    ctx.lineWidth = 1;
    ctx.stroke();
    ctx.strokeStyle = cfg.legend.color;
    ctx.lineWidth = 1.4;
    ctx.beginPath(); ctx.moveTo(bx + 8, by + bh / 2 + 0.5); ctx.lineTo(bx + 52, by + bh / 2 + 0.5); ctx.stroke();
    ctx.fillStyle = '#000';
    ctx.textAlign = 'left'; ctx.textBaseline = 'middle';
    ctx.fillText(cfg.legend.text, bx + 70, by + bh / 2 + 1);

    // frame
    ctx.strokeStyle = '#222';
    ctx.lineWidth = 1.1;
    ctx.strokeRect(Math.round(a.left) + 0.5, Math.round(a.top) + 0.5, Math.round(a.right - a.left) - 1, Math.round(a.bottom - a.top) - 1);

    // ticks
    ctx.strokeStyle = '#000';
    ctx.lineWidth = 1;
    for (let l = X_MIN; l <= X_MAX; l += xMinorStep) {
      const major = xMajorTicks.includes(l);
      const len = major ? 4.5 : 2.5;
      const x = Math.round(xs.getPixelForValue(l)) + 0.5;
      if (cfg.topTicks) { ctx.beginPath(); ctx.moveTo(x, a.top); ctx.lineTo(x, a.top + len); ctx.stroke(); }
      if (cfg.bottomTicks) { ctx.beginPath(); ctx.moveTo(x, a.bottom); ctx.lineTo(x, a.bottom - len); ctx.stroke(); }
    }
    ctx.fillStyle = '#000';
    ctx.font = `18px ${SERIF}`;
    ctx.textAlign = 'center';
    ctx.textBaseline = 'middle';
    xMajorTicks.forEach((l, i) => {
      const x = xs.getPixelForValue(l);
      if (cfg.topLabels) ctx.fillText(xTickLabels[i], x, a.top - 15);
      if (cfg.bottomLabels) ctx.fillText(xTickLabels[i], x, a.bottom + 14);
    });
    ctx.font = `24px ${SERIF}`;
    if (cfg.yTitle) {
      ctx.save();
      ctx.translate(22, (a.top + a.bottom) / 2);
      ctx.rotate(-Math.PI / 2);
      ctx.fillText('Scaled Flux + Offset', 0, 0);
      ctx.restore();
    }
    if (cfg.xTitle) ctx.fillText('Rest Wavelength (\u00c5)', (a.left + a.right) / 2, a.bottom + 43);
    ctx.restore();
  },
});

const panelFirst: PanelCfg = {
  yMax: 394,
  padding: { left: 38, right: 52, top: 32, bottom: 6 },
  datasets: [
    darkDs(lris58Dark, RED), darkDs(alfosc54Dark, RED),
    lightDs(lris58Light, RED_L), lightDs(alfosc54Light, RED_L), lightDs(alfosc54LightRed, RED_L),
    haloDs(lris58Dark, RED_L, 5), haloDs(alfosc54Dark, RED_L, 7),
  ],
  ann: annFirst, labels: specLabelsFirst, legend: { text: 'First Peak', color: RED },
  topTicks: true, topLabels: true, yTitle: true,
};
const panelSecond: PanelCfg = {
  yMax: 592,
  padding: { left: 38, right: 52, top: 1, bottom: 7 },
  datasets: [
    darkDs(alfosc0Dark, BLUE), darkDs(lris3Dark, BLUE), darkDs(kast9Dark, BLUE), darkDs(lris56Dark, BLUE),
    lightDs(lris3Light, BLUE_L), lightDs(kast9Light, BLUE_L, 2), lightDs(lris56Light, BLUE_L, 2.5),
    haloDs(alfosc0Dark, BLUE_L, 7), haloDs(lris3Dark, BLUE_L, 5), haloDs(kast9Dark, BLUE_L, 7), haloDs(lris56Dark, BLUE_L, 6),
  ],
  ann: annSecond, labels: specLabelsSecond, legend: { text: 'Second Peak', color: BLUE },
  bottomTicks: true, yTitle: true,
};
const panelHost: PanelCfg = {
  yMax: 197,
  padding: { left: 38, right: 52, top: 5, bottom: 58 },
  datasets: [
    darkDs(hostDark, BLACK),
    lightDs(hostLight, GREY_L, 2), lightDs(hostLightHb, GREY_L, 2), lightDs(hostLightHa, GREY_L, 2),
    haloDs(hostDark, GREY_L, 6),
  ],
  ann: annHost, labels: [], legend: { text: 'Local Host Galaxy', color: BLACK },
  bottomTicks: true, bottomLabels: true, xTitle: true,
};

function build(canvas: HTMLCanvasElement, cfg: PanelCfg) {
  return new Chart(canvas, {
    type: 'line',
    data: { datasets: cfg.datasets },
    options: {
      animation: false,
      responsive: false,
      devicePixelRatio: 1,
      events: [],
      parsing: false,
      layout: { padding: cfg.padding },
      scales: {
        x: { type: 'linear', min: X_MIN, max: X_MAX, display: false },
        y: { type: 'linear', min: 0, max: cfg.yMax, display: false },
      },
      plugins: { legend: { display: false }, tooltip: { enabled: false }, title: { display: false } },
      elements: { point: { radius: 0 }, line: { tension: 0 } },
    } as any,
    plugins: [decor(cfg)],
  });
}

export default function App() {
  const r1 = useRef<HTMLCanvasElement>(null);
  const r2 = useRef<HTMLCanvasElement>(null);
  const r3 = useRef<HTMLCanvasElement>(null);
  useEffect(() => {
    const charts = [build(r1.current!, panelFirst), build(r2.current!, panelSecond), build(r3.current!, panelHost)];
    return () => charts.forEach((c) => c.destroy());
  }, []);
  return (
    <div style={{ position: 'absolute', left: 0, top: 0, width: 1314, height: 1292, background: '#fff' }}>
      <canvas ref={r1} width={1314} height={432} style={{ position: 'absolute', left: 0, top: 0 }} />
      <canvas ref={r2} width={1314} height={600} style={{ position: 'absolute', left: 0, top: 432 }} />
      <canvas ref={r3} width={1314} height={260} style={{ position: 'absolute', left: 0, top: 1032 }} />
    </div>
  );
}
